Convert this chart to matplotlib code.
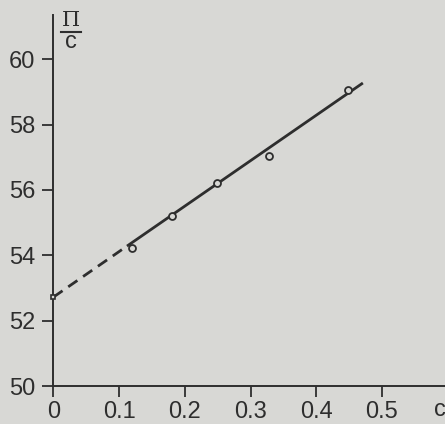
import matplotlib.pyplot as plt
from matplotlib.lines import Line2D

# measured points (c, Pi/c)
c_vals = [0.119, 0.180, 0.249, 0.328, 0.448]
pi_c_vals = [54.22, 55.20, 56.20, 57.03, 59.05]

# fitted line: dashed extrapolation to c = 0, solid through the data
extrap_c = [0.0, 0.112]
extrap_y = [52.72, 54.28]
fit_c = [0.112, 0.471]
fit_y = [54.28, 59.27]
intercept = (0.0, 52.72)

x_ticks = [0, 0.1, 0.2, 0.3, 0.4, 0.5]
x_labels = ['0', '0.1', '0.2', '0.3', '0.4', '0.5']
y_ticks = [50, 52, 54, 56, 58, 60]

bg = '#d8d8d5'
ink = '#2e2e2e'

plt.rcParams['font.family'] = ['Liberation Sans', 'DejaVu Sans']

fig = plt.figure(figsize=(4.45, 4.24), dpi=100, facecolor=bg)
ax = fig.add_axes([0.120, 0.0896, 0.880, 0.875])
ax.set_facecolor(bg)

ax.plot(extrap_c, extrap_y, color=ink, linewidth=2.0, dashes=(4, 2.5), solid_capstyle='butt')
ax.plot(fit_c, fit_y, color=ink, linewidth=2.0, solid_capstyle='butt')
ax.plot(c_vals, pi_c_vals, linestyle='none', marker='o', markersize=5,
        markerfacecolor=bg, markeredgecolor=ink, markeredgewidth=1.3)
ax.plot([intercept[0]], [intercept[1]], linestyle='none', marker='s', markersize=3.5,
        markerfacecolor=bg, markeredgecolor=ink, markeredgewidth=1.2, clip_on=False, zorder=5)

ax.set_xlim(0, 0.596)
ax.set_ylim(50, 61.35)

for side in ['top', 'right']:
    ax.spines[side].set_visible(False)
for side in ['left', 'bottom']:
    ax.spines[side].set_color(ink)
    ax.spines[side].set_linewidth(1.4)

ax.set_xticks(x_ticks)
ax.set_xticklabels(x_labels)
ax.set_yticks(y_ticks)
ax.tick_params(axis='both', direction='out', length=8, width=1.3, color=ink,
               labelsize=17, labelcolor=ink)
ax.tick_params(axis='x', pad=2.5)
ax.tick_params(axis='y', pad=5)

# axis labels
fig.text(440 / 445, 1 - 410 / 424, 'c', ha='center', va='center', fontsize=17, color=ink)
fig.text(71 / 445, 1 - 21 / 424, '\u03a0', ha='center', va='center', fontsize=15,
         color=ink, family=['DejaVu Serif'])
fig.add_artist(Line2D([61 / 445, 81 / 445], [1 - 32 / 424, 1 - 32 / 424],
                      color=ink, linewidth=1.5, transform=fig.transFigure))
fig.text(71 / 445, 1 - 42 / 424, 'c', ha='center', va='center', fontsize=17, color=ink)

fig.savefig('out.png', dpi=100, facecolor=bg)
